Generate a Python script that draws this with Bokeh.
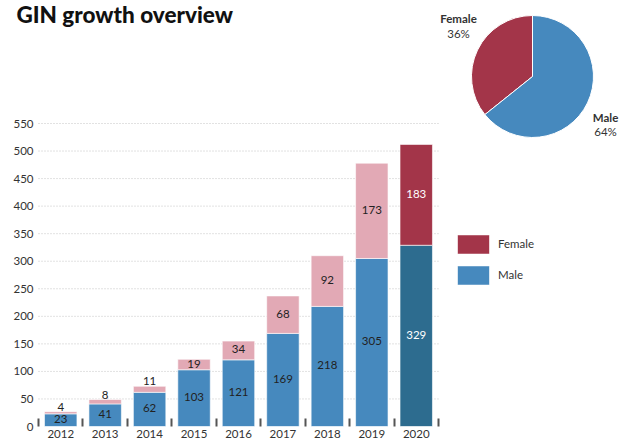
from bokeh.plotting import figure
from bokeh.models import Range1d, FixedTicker, Label, Legend, LegendItem, ColumnDataSource
from bokeh.core.properties import value
from bokeh.embed import file_html
from bokeh.resources import INLINE
import math

# ---------------- data ----------------
years = ["2012", "2013", "2014", "2015", "2016", "2017", "2018", "2019", "2020"]
male = [23, 41, 62, 103, 121, 169, 218, 305, 329]
female = [4, 8, 11, 19, 34, 68, 92, 173, 183]
series = ["Female", "Male"]
y_ticks = [0, 50, 100, 150, 200, 250, 300, 350, 400, 450, 500, 550]
title_text = "GIN growth overview"

# ---------------- style / layout ----------------
FONT = "Lato"
MALE_C = "#4689BE"
FEMALE_C = "#E2A9B5"
MALE_HI = "#2D6C8F"
FEMALE_HI = "#A33549"
TXT = "#333333"

FIG_W, FIG_H = 622, 440
PLOT_L = 38          # px where the category span starts
AXIS_H = 14          # height of bottom axis panel
FW = FIG_W
FH = FIG_H - AXIS_H
SLOT = 44.44         # px per category
TOP550 = 123         # px of the 550 line
k = (FH - TOP550) / 550.0
y_end = FH / k
x_start = -0.5 - PLOT_L / SLOT
x_end = x_start + FW / SLOT

n = len(years)
idx = list(range(n))
total = [m + f for m, f in zip(male, female)]

p = figure(width=FIG_W, height=FIG_H, output_backend="svg", toolbar_location=None,
           x_range=Range1d(x_start, x_end), y_range=Range1d(0, y_end),
           min_border_left=0, min_border_right=0, min_border_top=0, min_border_bottom=0,
           outline_line_color=None)
p.extra_x_ranges = {"px": Range1d(0, FW)}
p.extra_y_ranges = {"py": Range1d(0, FH)}
p.xgrid.visible = False
p.ygrid.visible = False

# grid lines (dotted, only across the category span)
gy = [t for t in y_ticks if t > 0]
p.segment(x0=[-0.5] * len(gy), x1=[n - 0.5] * len(gy), y0=gy, y1=gy,
          line_color="#c4c4c4", line_width=1, line_dash="1 2")

# bars
male_cols = [MALE_C] * (n - 1) + [MALE_HI]
fem_cols = [FEMALE_C] * (n - 1) + [FEMALE_HI]
lab_cols = ["#222222"] * (n - 1) + ["#ffffff"]
src = ColumnDataSource(dict(x=idx, male=male, female=female, total=total,
                            mc=male_cols, fc=fem_cols, lc=lab_cols,
                            mlab=[str(v) for v in male],
                            mmid=[m / 2.0 for m in male]))
BW = 0.73
r_m = p.vbar(x="x", bottom=0, top="male", width=BW, fill_color="mc", line_color="white",
             line_alpha=0.6, line_width=1, source=src)
r_f = p.vbar(x="x", bottom="male", top="total", width=BW, fill_color="fc", line_color="white",
             line_alpha=0.6, line_width=1, source=src)

# value labels
p.text(x="x", y="mmid", text="mlab", text_color="lc", text_align="center",
       text_baseline="middle", text_font=value(FONT), text_font_size="11.5px",
       y_offset=-1, source=src)
inside = [i for i in idx if female[i] * k >= 9]
outside = [i for i in idx if female[i] * k < 9]
src_in = ColumnDataSource(dict(x=inside, y=[male[i] + female[i] / 2.0 for i in inside],
                               t=[str(female[i]) for i in inside], c=[lab_cols[i] for i in inside]))
src_out = ColumnDataSource(dict(x=outside, y=[total[i] for i in outside],
                                t=[str(female[i]) for i in outside]))
p.text(x="x", y="y", text="t", text_color="c", text_align="center", text_baseline="middle",
       text_font=value(FONT), text_font_size="11.5px", y_offset=-1, source=src_in)
p.text(x="x", y="y", text="t", text_color="#222222", text_align="center", text_baseline="bottom",
       text_font=value(FONT), text_font_size="11.5px", y_offset=-1, source=src_out)

# axes
xa = p.xaxis[0]
xa.ticker = FixedTicker(ticks=idx, minor_ticks=[i - 0.5 for i in range(n + 1)])
xa.major_label_overrides = {i: years[i] for i in idx}
xa.axis_line_color = None
xa.major_tick_line_color = None
xa.major_tick_in = 0
xa.major_tick_out = 0
xa.minor_tick_in = 8
xa.minor_tick_out = 0
xa.minor_tick_line_color = "#555555"
xa.minor_tick_line_width = 2
xa.major_label_text_font = FONT
xa.major_label_text_font_size = "11.5px"
xa.major_label_text_color = TXT
xa.major_label_standoff = 3

ya = p.yaxis[0]
ya.ticker = FixedTicker(ticks=y_ticks)
ya.axis_line_color = None
ya.major_tick_line_color = None
ya.minor_tick_line_color = None
ya.major_tick_in = 0
ya.major_tick_out = 0
ya.major_label_text_font = FONT
ya.major_label_text_font_size = "11.5px"
ya.major_label_text_color = TXT
ya.major_label_standoff = -33   # labels end at x=33, inside the drawing area

# pie (2020 split)
f_share = female[-1] / total[-1]
m_share = male[-1] / total[-1]
a0 = math.pi / 2
a1 = a0 + 2 * math.pi * f_share
a2 = a0 + 2 * math.pi
PIE_CX, PIE_CY = 532, FH - 76
p.wedge(x=[PIE_CX, PIE_CX], y=[PIE_CY, PIE_CY], radius=61, radius_units="screen",
        start_angle=[a0, a1], end_angle=[a1, a2], fill_color=[FEMALE_HI, MALE_C],
        line_color="white", line_width=1, x_range_name="px", y_range_name="py")

def lab(txt, px, py, bold=False, size="11.5px", align="center", base="middle",
        font=FONT, color=TXT):
    p.add_layout(Label(x=px, y=FH - py, x_range_name="px", y_range_name="py",
                       text=txt, text_font=font, text_font_size=size,
                       text_font_style="bold" if bold else "normal", text_color=color,
                       text_align=align, text_baseline=base))

lab(series[0], 458, 18, bold=True)
lab(f"{round(f_share * 100)}%", 458, 33)
lab(series[1], 605, 117, bold=True)
lab(f"{round(m_share * 100)}%", 605, 131)

# title
lab(title_text, 16, 14, size="22.5px", align="left", base="middle",
    font="Lato Black", color="#111111")

# legend
leg = Legend(items=[LegendItem(label=series[0], renderers=[r_f], index=n - 1),
                    LegendItem(label=series[1], renderers=[r_m], index=0)],
             location=(453, FH - 286.6), glyph_width=40, glyph_height=24,
             spacing=7, padding=0, margin=0, border_line_color=None,
             background_fill_alpha=0, label_text_font=FONT, label_text_font_size="11.5px",
             label_text_color=TXT, label_standoff=5, label_height=24)
p.add_layout(leg)

open("out.html", "w").write(file_html(p, INLINE))
